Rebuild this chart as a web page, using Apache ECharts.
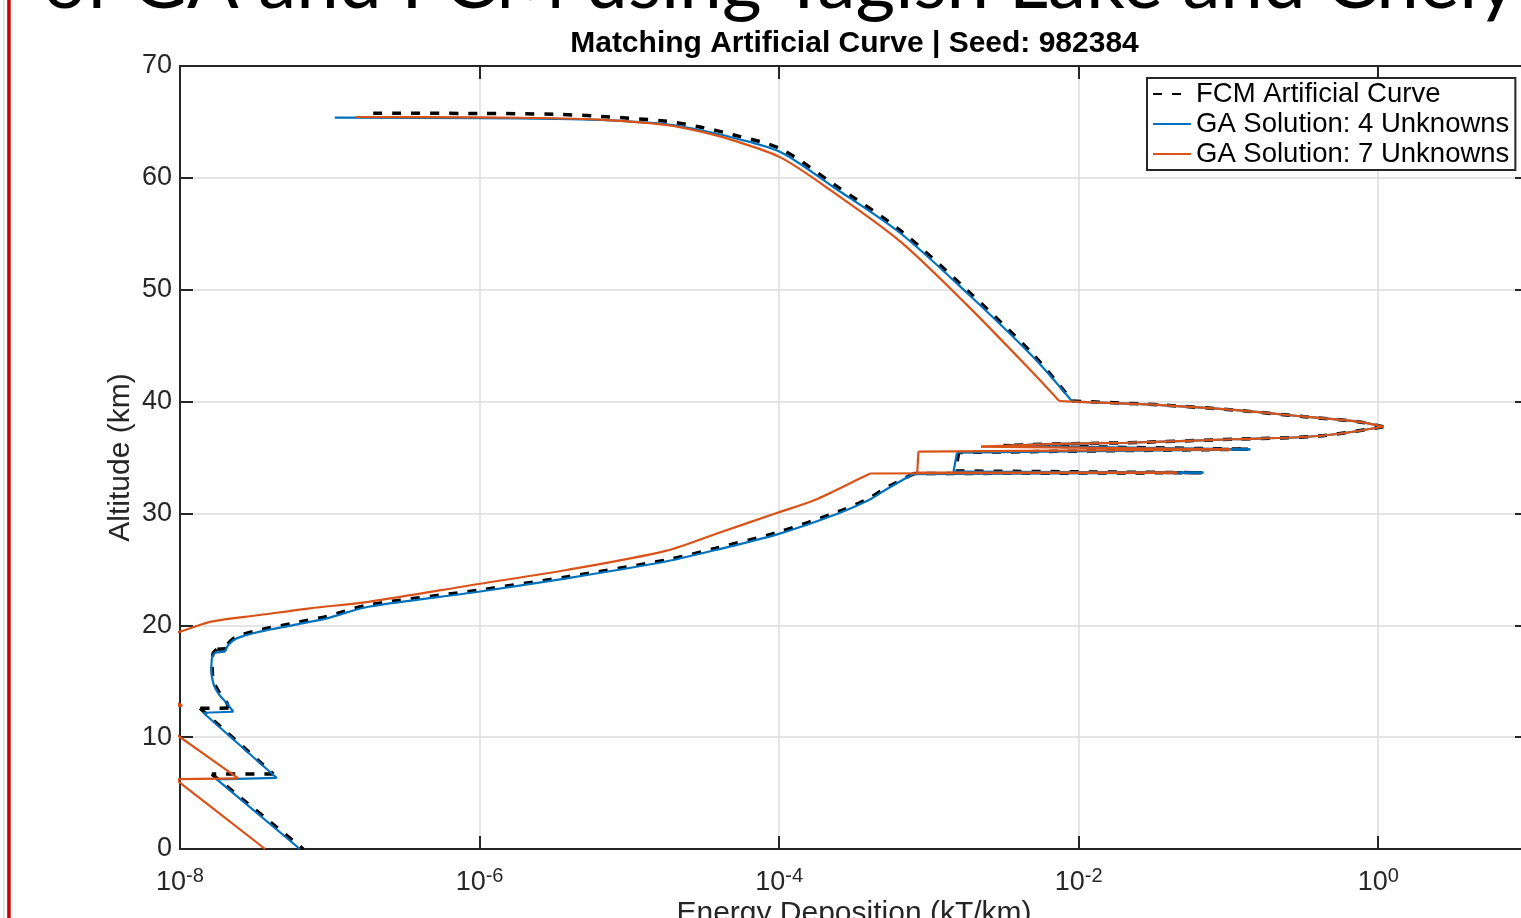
<!DOCTYPE html>
<html>
<head>
<meta charset="utf-8">
<script src="https://cdn.jsdelivr.net/npm/echarts@6/dist/echarts.min.js"></script>
<style>
html,body{margin:0;padding:0;background:#fff;overflow:hidden}
#chart{width:1521px;height:918px}
</style>
</head>
<body>
<div id="chart"></div>
<script>
// ---------- data (energy in kT/km, altitude in km) ----------
const fcmEnergy = [1.95e-7, 1.0e-6, 3.16e-6, 6.38e-6, 1.79e-5, 2.96e-5, 4.93e-5, 1.02e-4, 2.30e-4, 6.43e-4,
  1.80e-3, 4.97e-3, 9.06e-3, 3.58e-2, 1.07e-1, 3.22e-1, 7.35e-1, 1.08, 4.01e-1, 1.07e-1,
  2.07e-2, 6.89e-3, 3.16e-3, 1.35e-1, 1.58e-3, 1.51e-3, 6.61e-2, 7.94e-4, 5.13e-4, 3.98e-4,
  2.48e-4, 9.70e-5, 3.80e-5, 1.78e-5, 3.89e-6, 1.0e-6, 1.82e-7, 9.55e-8, 5.75e-8, 3.47e-8,
  2.40e-8, 2.11e-8, 2.04e-8, 1.76e-8, 1.66e-8, 1.64e-8, 1.68e-8, 1.82e-8, 2.04e-8, 2.11e-8,
  1.36e-8, 4.20e-8, 1.63e-8, 6.65e-8];
const fcmAltitude = [65.77, 65.76, 65.68, 65.5, 65.05, 64.55, 63.85, 62.6, 59.45, 55.3,
  49.95, 44.2, 40.05, 39.69, 39.25, 38.65, 38.2, 37.75, 36.92, 36.63,
  36.32, 36.21, 36.07, 35.74, 35.45, 33.8, 33.64, 33.56, 32.25, 31.35,
  30.15, 28.3, 26.9, 25.85, 24.35, 23.15, 21.82, 20.8, 20.2, 19.6,
  19.0, 18.4, 17.9, 17.85, 17.45, 16.2, 14.95, 14.05, 13.15, 12.6,
  12.58, 6.7, 6.7, 0];
// indices where the FCM curve has a sharp corner (spikes, steps)
const fcmCorners = [12, 17, 22, 23, 24, 25, 26, 27, 42, 43, 49, 50, 51, 52];

const ga4Energy = [1.08e-7, 1.0e-6, 3.16e-6, 6.38e-6, 1.79e-5, 2.96e-5, 4.93e-5, 1.02e-4, 2.30e-4, 6.43e-4,
  1.80e-3, 4.97e-3, 9.06e-3, 3.58e-2, 1.07e-1, 3.22e-1, 7.35e-1, 1.08, 4.01e-1, 1.07e-1,
  2.07e-2, 6.89e-3, 3.55e-3, 1.40e-1, 1.54e-3, 1.46e-3, 6.81e-2, 7.85e-4, 5.11e-4, 3.98e-4,
  2.48e-4, 9.70e-5, 3.76e-5, 1.75e-5, 3.82e-6, 9.84e-7, 1.81e-7, 9.55e-8, 5.71e-8, 3.42e-8,
  2.39e-8, 2.10e-8, 2.00e-8, 1.71e-8, 1.64e-8, 1.62e-8, 1.67e-8, 1.80e-8, 2.05e-8, 2.27e-8,
  1.43e-8, 4.43e-8, 1.76e-8, 6.32e-8];
const ga4Altitude = [65.38, 65.34, 65.28, 65.18, 64.79, 64.28, 63.59, 62.31, 59.18, 55.07,
  49.7, 43.98, 40.0, 39.69, 39.25, 38.65, 38.2, 37.75, 36.92, 36.63,
  36.32, 36.21, 36.05, 35.73, 35.43, 33.73, 33.64, 33.52, 32.09, 31.2,
  30.0, 28.13, 26.73, 25.7, 24.2, 23.0, 21.66, 20.62, 20.02, 19.43,
  18.83, 18.24, 17.64, 17.55, 17.2, 16.0, 14.81, 13.92, 13.03, 12.27,
  12.18, 6.35, 6.23, 0];
const ga4Corners = [12, 17, 22, 23, 24, 25, 26, 27, 42, 43, 49, 50, 51, 52];

const ga7Energy = [1.48e-7, 1.0e-6, 3.16e-6, 6.38e-6, 1.79e-5, 2.96e-5, 4.93e-5, 1.02e-4, 2.30e-4, 6.43e-4,
  1.80e-3, 4.97e-3, 7.41e-3, 9.06e-3, 3.58e-2, 1.07e-1, 3.22e-1, 7.35e-1, 1.08, 4.01e-1,
  1.07e-1, 2.07e-2, 6.89e-3, 2.23e-3, 1.03e-1, 8.51e-4, 8.36e-4, 4.53e-2, 4.06e-4, 3.48e-4,
  1.73e-4, 9.75e-5, 3.76e-5, 1.75e-5, 3.82e-6, 9.84e-7, 1.81e-7, 7.38e-8, 3.42e-8, 1.62e-8,
  1.0e-8, 7.08e-9, 5.62e-9, 5.25e-9, 5.01e-9, 5.62e-9, 7.59e-9, 1.035e-8, 5.25e-9, 1.026e-8,
  2.45e-8, 9.33e-9, 1.026e-8, 3.70e-8];
const ga7Altitude = [65.44, 65.4, 65.33, 65.2, 64.72, 64.15, 63.35, 61.83, 58.72, 54.32,
  48.62, 42.55, 40.05, 40.0, 39.69, 39.25, 38.65, 38.2, 37.75, 36.92,
  36.63, 36.32, 36.21, 35.97, 35.73, 35.52, 33.64, 33.64, 33.57, 33.14,
  31.2, 30.06, 28.16, 26.65, 24.94, 23.69, 22.1, 21.52, 20.92, 20.33,
  19.43, 19.0, 18.3, 17.7, 16.0, 14.8, 13.7, 12.8, 12.75, 9.9,
  6.32, 6.25, 5.81, 0];
const ga7Corners = [12, 13, 18, 23, 24, 25, 26, 27, 28, 47, 48, 50, 51];

const seriesNames = ['FCM Artificial Curve', 'GA Solution: 4 Unknowns', 'GA Solution: 7 Unknowns'];
const chartTitle = 'Matching Artificial Curve | Seed: 982384';
const headerText = 'of GA and FCM using Tagish Lake and Chely';
const xAxisName = 'Energy Deposition (kT/km)';
const yAxisName = 'Altitude (km)';
const xMin = 1e-8, xMax = 10;
const yMin = 0, yMax = 70, yStep = 10;

// ---------- styling ----------
const AX = '#262626';
const FONT = '"Liberation Sans", Arial, Helvetica, sans-serif';
const GRIDC = '#dcdcdc';

// split a curve at its sharp corners; each piece is smoothed by the library
function pieces(xs, ys, corners) {
  const cuts = [0].concat(corners, [xs.length - 1]);
  const out = [];
  for (let k = 0; k < cuts.length - 1; k++) {
    const a = cuts[k], b = cuts[k + 1];
    if (b <= a) continue;
    const seg = [];
    for (let i = a; i <= b; i++) seg.push([xs[i], ys[i]]);
    out.push(seg);
  }
  return out;
}

function makeSeries(name, xs, ys, corners, lineStyle) {
  return pieces(xs, ys, corners).map(seg => ({
    name: name, type: 'line', xAxisIndex: 0, yAxisIndex: 0,
    data: seg, symbol: 'none', showSymbol: false, clip: true,
    smooth: 0.3,
    lineStyle: lineStyle, itemStyle: {color: lineStyle.color},
    emphasis: {disabled: true}
  }));
}

// fit the cropped slide header to its visible width
const mctx = document.createElement('canvas').getContext('2d');
mctx.font = '100px Lato';
const headerSize = 100 * 1474 / mctx.measureText(headerText).width;
const headerBaseline = 13;

const chart = echarts.init(document.getElementById('chart'), null, {renderer: 'canvas'});

const baseAxis = {
  axisLine: {show: true, onZero: false, lineStyle: {color: AX, width: 2}},
  axisTick: {show: true, inside: true, length: 13, lineStyle: {color: AX, width: 2}},
  minorTick: {show: false},
  nameMoveOverlap: false
};

const series = []
  .concat(makeSeries(seriesNames[0], fcmEnergy, fcmAltitude, fcmCorners, {color: '#000000', width: 3.5, type: [9, 10]}))
  .concat(makeSeries(seriesNames[1], ga4Energy, ga4Altitude, ga4Corners, {color: '#0072BD', width: 2.2}))
  .concat(makeSeries(seriesNames[2], ga7Energy, ga7Altitude, ga7Corners, {color: '#D95319', width: 2.2}));

const option = {
  animation: false,
  backgroundColor: '#fff',
  grid: {left: 180, top: 66, width: 1348, height: 783, containLabel: false, outerBoundsMode: 'none'},
  legend: {
    orient: 'vertical', left: 1147, top: 78, align: 'left',
    padding: [2, 6, 2, 5], itemGap: 2, itemWidth: 38, itemHeight: 14,
    borderColor: AX, borderWidth: 2, backgroundColor: '#fff',
    itemStyle: {opacity: 0},
    selectedMode: false,
    textStyle: {fontSize: 27.5, fontFamily: FONT, color: '#000', lineHeight: 28},
    data: seriesNames
  },
  xAxis: [
    Object.assign({}, baseAxis, {
      type: 'log', logBase: 100, min: xMin, max: xMax, position: 'bottom',
      splitLine: {show: true, lineStyle: {color: GRIDC, width: 1.5}},
      axisLabel: {
        show: true, margin: 17, showMaxLabel: false, color: AX,
        formatter: v => '{b|10}{s|' + Math.round(Math.log10(v)) + '}',
        rich: {
          b: {fontSize: 27, fontFamily: FONT, color: AX, lineHeight: 30, verticalAlign: 'bottom'},
          s: {fontSize: 20, fontFamily: FONT, color: AX, lineHeight: 20, verticalAlign: 'top'}
        }
      },
      name: xAxisName, nameLocation: 'middle', nameGap: 50,
      nameTextStyle: {fontSize: 30, fontFamily: FONT, color: AX}
    }),
    Object.assign({}, baseAxis, {
      type: 'log', logBase: 100, min: xMin, max: xMax, position: 'top',
      splitLine: {show: false}, axisLabel: {show: false}
    })
  ],
  yAxis: [
    Object.assign({}, baseAxis, {
      type: 'value', min: yMin, max: yMax, interval: yStep, position: 'left',
      splitLine: {show: true, lineStyle: {color: GRIDC, width: 1.5}},
      axisLabel: {show: true, margin: 8, color: AX, fontSize: 27, fontFamily: FONT},
      name: yAxisName, nameLocation: 'middle', nameGap: 44, nameRotate: 90,
      nameTextStyle: {fontSize: 30, fontFamily: FONT, color: AX}
    }),
    Object.assign({}, baseAxis, {
      type: 'value', min: yMin, max: yMax, interval: yStep, position: 'right',
      splitLine: {show: false}, axisLabel: {show: false}
    })
  ],
  series: series,
  graphic: [
    {type: 'rect', shape: {x: 3, y: 0, width: 1.5, height: 918}, style: {fill: '#dedede'}, silent: true},
    {type: 'rect', shape: {x: 7.2, y: 0, width: 3.5, height: 918}, style: {fill: '#c80000'}, silent: true},
    {type: 'text', x: 43, y: headerBaseline - 0.387 * headerSize, silent: true,
     style: {text: headerText, font: headerSize.toFixed(2) + 'px Lato', fill: '#000',
             align: 'left', verticalAlign: 'middle', textAlign: 'left', textVerticalAlign: 'middle'}},
    {type: 'text', x: 854.5, y: 44, silent: true,
     style: {text: chartTitle, font: 'bold 30px ' + FONT, fill: '#000',
             align: 'center', verticalAlign: 'middle', textAlign: 'center', textVerticalAlign: 'middle'}}
  ]
};

chart.setOption(option);
</script>
</body>
</html>
